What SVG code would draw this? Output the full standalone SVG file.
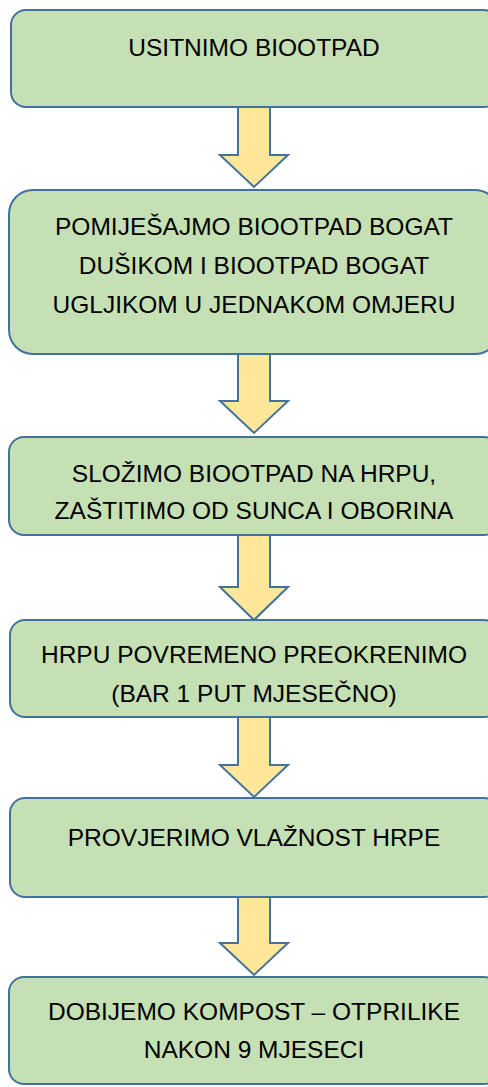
<svg xmlns="http://www.w3.org/2000/svg" width="488" height="1087" viewBox="0 0 488 1087">
<defs>
<style>
.box{fill:#C5E0B4;stroke:#41719C;stroke-width:2}
.arr{fill:#FFE699;stroke:#41719C;stroke-width:2;stroke-linejoin:miter}
.t{font-family:"Liberation Sans",Arial,sans-serif;font-size:24.5px;fill:#000;text-anchor:middle}
</style>
</defs>
<rect width="488" height="1087" fill="#fff"/>
<g id="connectors">
<path class="arr" d="M238,107 V155 H220 L254,187 L288,155 H270 V107 Z"/>
<path class="arr" d="M238,354 V401 H220 L254,433 L288,401 H270 V354 Z"/>
<path class="arr" d="M238,535 V587 H220 L254,620 L288,587 H270 V535 Z"/>
<path class="arr" d="M238,717 V765 H220 L254,797 L288,765 H270 V717 Z"/>
<path class="arr" d="M238,897 V943 H220 L254,975 L288,943 H270 V897 Z"/>
</g>
<g id="n1">
<rect class="box" x="11" y="10" width="488" height="97" rx="15"/>
<text class="t" x="254" y="56">USITNIMO BIOOTPAD</text>
</g>
<g id="n2">
<rect class="box" x="9" y="190" width="490" height="164" rx="24"/>
<text class="t" x="254" y="235">POMIJEŠAJMO BIOOTPAD BOGAT</text>
<text class="t" x="254" y="274">DUŠIKOM I BIOOTPAD BOGAT</text>
<text class="t" x="254" y="313">UGLJIKOM U JEDNAKOM OMJERU</text>
</g>
<g id="n3">
<rect class="box" x="9" y="437" width="490" height="98" rx="15"/>
<text class="t" x="254" y="482">SLOŽIMO BIOOTPAD NA HRPU,</text>
<text class="t" x="254" y="519">ZAŠTITIMO OD SUNCA I OBORINA</text>
</g>
<g id="n4">
<rect class="box" x="10" y="620" width="489" height="97" rx="15"/>
<text class="t" x="254" y="663">HRPU POVREMENO PREOKRENIMO</text>
<text class="t" x="254" y="702">(BAR 1 PUT MJESEČNO)</text>
</g>
<g id="n5">
<rect class="box" x="10" y="798" width="489" height="99" rx="15"/>
<text class="t" x="254" y="846">PROVJERIMO VLAŽNOST HRPE</text>
</g>
<g id="n6">
<rect class="box" x="9" y="977" width="490" height="107" rx="15"/>
<text class="t" x="254" y="1020">DOBIJEMO KOMPOST – OTPRILIKE</text>
<text class="t" x="254" y="1058">NAKON 9 MJESECI</text>
</g>
</svg>
